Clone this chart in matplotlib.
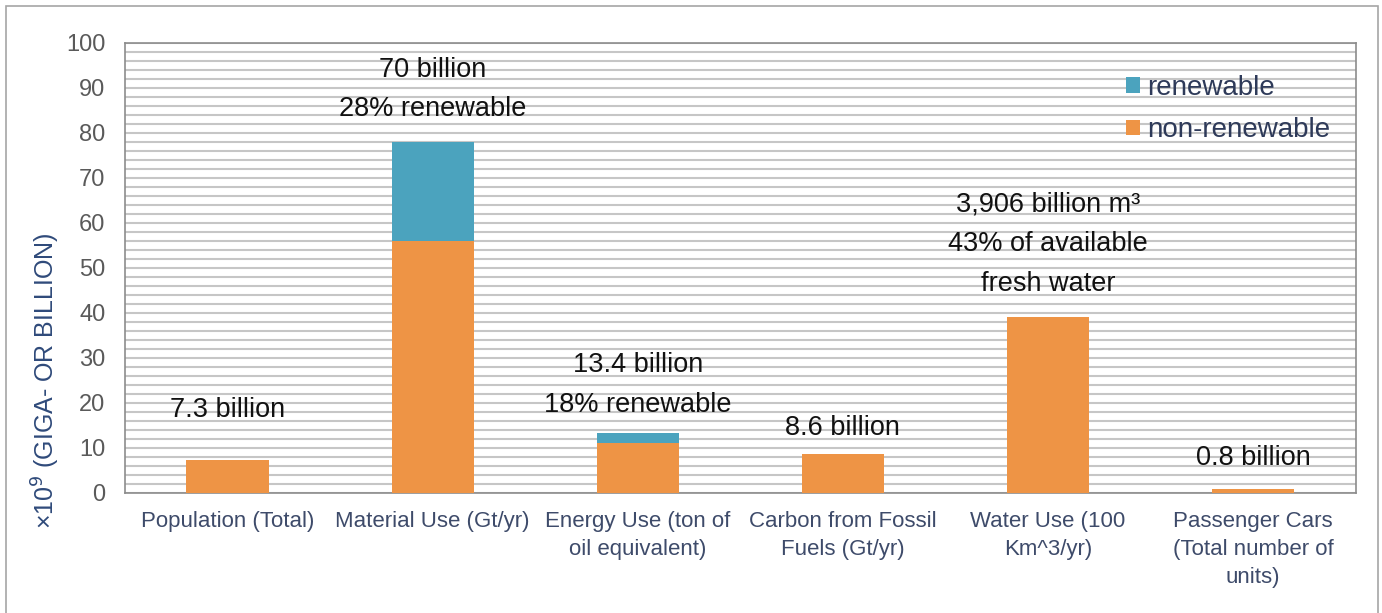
import matplotlib.pyplot as plt
import matplotlib.patches as mpatches
import numpy as np

# data
categories = ["Population (Total)", "Material Use (Gt/yr)", "Energy Use (ton of\noil equivalent)",
              "Carbon from Fossil\nFuels (Gt/yr)", "Water Use (100\nKm^3/yr)",
              "Passenger Cars\n(Total number of\nunits)"]
non_renewable = [7.3, 56, 11, 8.6, 39, 0.8]
renewable = [0, 22, 2.4, 0, 0, 0]

# annotation text per bar, with the y (data units) of each line
notes = [
    [("7.3 billion", 18.4)],
    [("70 billion", 94.0), ("28% renewable", 85.4)],
    [("13.4 billion", 28.4), ("18% renewable", 19.5)],
    [("8.6 billion", 14.4)],
    [("3,906 billion m³", 64.2), ("43% of available", 55.3), ("fresh water", 46.4)],
    [("0.8 billion", 7.7)],
]

orange = "#EE9445"
blue = "#4BA3BE"
sans = ["Liberation Sans", "DejaVu Sans"]

fig = plt.figure(figsize=(13.82, 6.13), dpi=100)
ax = fig.add_axes([0.0904, 0.1958, 0.8906, 0.7341])

x = np.arange(len(categories))
ax.bar(x, non_renewable, width=0.4, color=orange, zorder=3, label="non-renewable")
ax.bar(x, renewable, width=0.4, bottom=non_renewable, color=blue, zorder=3, label="renewable")

ax.set_xlim(-0.5, len(categories) - 0.5)
ax.set_ylim(0, 100)
ax.set_yticks(np.arange(0, 101, 10))
ax.set_yticks(np.arange(0, 101, 2), minor=True)
ax.grid(axis="y", which="both", color="#C6C6C6", linewidth=1.5, zorder=0)
ax.set_xticks(x)
ax.set_xticklabels(categories, fontsize=16, color="#3E4B6A", family=sans, linespacing=1.45)
for lab in ax.get_yticklabels():
    lab.set_fontfamily(sans)
ax.tick_params(axis="y", which="both", length=0, pad=14, labelsize=17, labelcolor="#5A5A5A")
ax.tick_params(axis="x", length=0, pad=13)

for s in ax.spines.values():
    s.set_color("#8C8C8C")
    s.set_linewidth(1.2)

ax.set_ylabel("×10$^9$ (GIGA- OR BILLION)", fontsize=18, color="#2F4A7A", family=sans)
ax.yaxis.set_label_coords(-0.051, 0.25)

for i, lines in enumerate(notes):
    for txt, yy in lines:
        ax.text(x[i], yy, txt, ha="center", va="center", fontsize=19.5, color="#111111",
                family=sans, zorder=4)

h, l = ax.get_legend_handles_labels()
ax.legend(h[::-1], l[::-1], loc="upper left", bbox_to_anchor=(0.793, 0.985), frameon=False,
          handlelength=0.5, handleheight=0.5, handletextpad=0.25,
          labelspacing=0.6, labelcolor="#2E3A59", prop={"family": sans, "size": 20})

# thin frame around the whole picture
fig.patches.append(mpatches.Rectangle((6 / 1382, -0.05), 1372 / 1382, 1.05 - 6 / 613,
                                      transform=fig.transFigure, fill=False,
                                      edgecolor="#A6A6A6", linewidth=1.2))

fig.savefig("out.png", dpi=100)
